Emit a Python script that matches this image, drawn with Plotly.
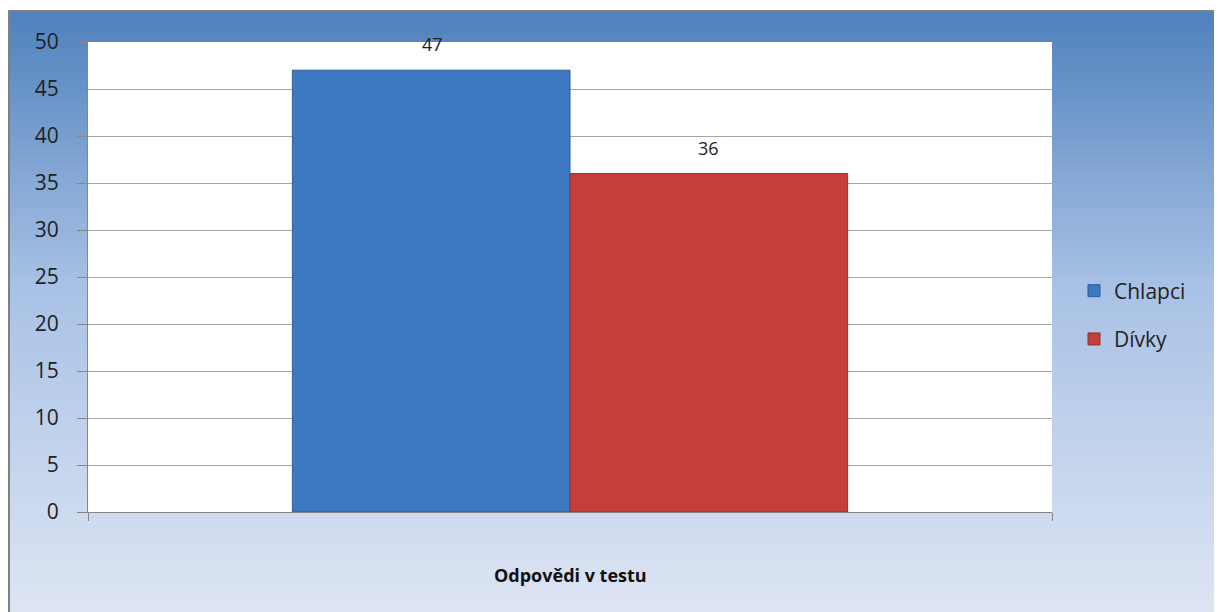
import plotly.graph_objects as go

categories = ["Odpovědi v testu"]
series_names = ["Chlapci", "Dívky"]
chlapci = [47]
divky = [36]
y_ticks = [0, 5, 10, 15, 20, 25, 30, 35, 40, 45, 50]

OFF = 8  # default page body margin
W, H = 1222 - OFF, 612 - OFF
L, T = 88 - OFF, 42 - OFF
pw, ph = 964, 470
R, B = W - L - pw, H - T - ph

def px_x(p):
    return (p - OFF - L) / pw

def px_y(p):
    return (T + ph - (p - OFF)) / ph

FONT = "Open Sans"

fig = go.Figure()
fig.add_trace(go.Bar(
    x=categories, y=chlapci, name=series_names[0], legendgroup="a",
    marker=dict(color="#3d78c2", line=dict(color="#2f5d98", width=1)),
))
fig.add_trace(go.Bar(
    x=categories, y=divky, name=series_names[1], legendgroup="b",
    marker=dict(color="#c63e3b", line=dict(color="#93302e", width=1)),
))

# value labels
for i, vals in enumerate([chlapci, divky]):
    for c, v in zip(categories, vals):
        fig.add_annotation(
            x=c, y=v, text=str(v), showarrow=False, xref="x", yref="y",
            xshift=(-138 if i == 0 else 138), yshift=26,
            font=dict(family=FONT, size=18, color="#222"),
        )

# background gradient (chart area)
stops = [(0.0, (79, 129, 189)), (0.45, (168, 193, 229)), (1.0, (223, 230, 244))]
def col(t):
    for (t0, c0), (t1, c1) in zip(stops[:-1], stops[1:]):
        if t <= t1:
            f = (t - t0) / (t1 - t0)
            return "rgb(%d,%d,%d)" % tuple(round(a + (b - a) * f) for a, b in zip(c0, c1))
    return "rgb(%d,%d,%d)" % stops[-1][1]

shapes = []
top, bot = 11, 620
n = 80
for k in range(n):
    y0 = top + (bot - top) * k / n
    y1 = top + (bot - top) * (k + 1) / n + 1
    shapes.append(dict(type="rect", xref="paper", yref="paper", layer="below",
                       x0=px_x(9), x1=px_x(1215), y0=px_y(y1), y1=px_y(y0),
                       fillcolor=col((k + 0.5) / n), line=dict(width=0)))
shapes.append(dict(type="rect", xref="paper", yref="paper", layer="below",
                   x0=0, x1=1, y0=0, y1=1, fillcolor="white", line=dict(width=0)))
shapes.append(dict(type="rect", xref="paper", yref="paper", layer="below",
                   x0=px_x(9), x1=px_x(1215), y0=px_y(bot), y1=px_y(top),
                   fillcolor="rgba(0,0,0,0)", line=dict(color="#808080", width=2)))

fig.add_annotation(
    x=0.5, y=px_y(575), xref="paper", yref="paper", text="<b>Odpovědi v testu</b>",
    showarrow=False, yanchor="middle", xanchor="center",
    font=dict(family=FONT, size=18, color="#111"),
)

fig.update_layout(
    width=W, height=H,
    margin=dict(l=L, r=R, t=T, b=B),
    paper_bgcolor="white", plot_bgcolor="white",
    barmode="group", bargap=0.424, bargroupgap=0,
    shapes=shapes,
    showlegend=True,
    legend=dict(
        x=px_x(1074), y=px_y(315), xanchor="left", yanchor="middle",
        traceorder="grouped", tracegroupgap=18, itemwidth=30,
        font=dict(family=FONT, size=21, color="#222"),
        bgcolor="rgba(0,0,0,0)",
    ),
    xaxis=dict(
        showticklabels=False, ticks="outside", tickson="boundaries", ticklen=8,
        tickcolor="#868686", showline=True, linecolor="#868686", linewidth=1,
        showgrid=False, zeroline=False,
    ),
    yaxis=dict(
        range=[0, 50], tickvals=y_ticks, ticks="outside", ticklen=10,
        tickcolor="#868686", showline=True, linecolor="#868686", linewidth=1,
        gridcolor="#a6a6a6", gridwidth=1, zeroline=False,
        tickfont=dict(family=FONT, size=21, color="#222"),
        ticklabelstandoff=14,
    ),
)

fig.write_html("out.html")
